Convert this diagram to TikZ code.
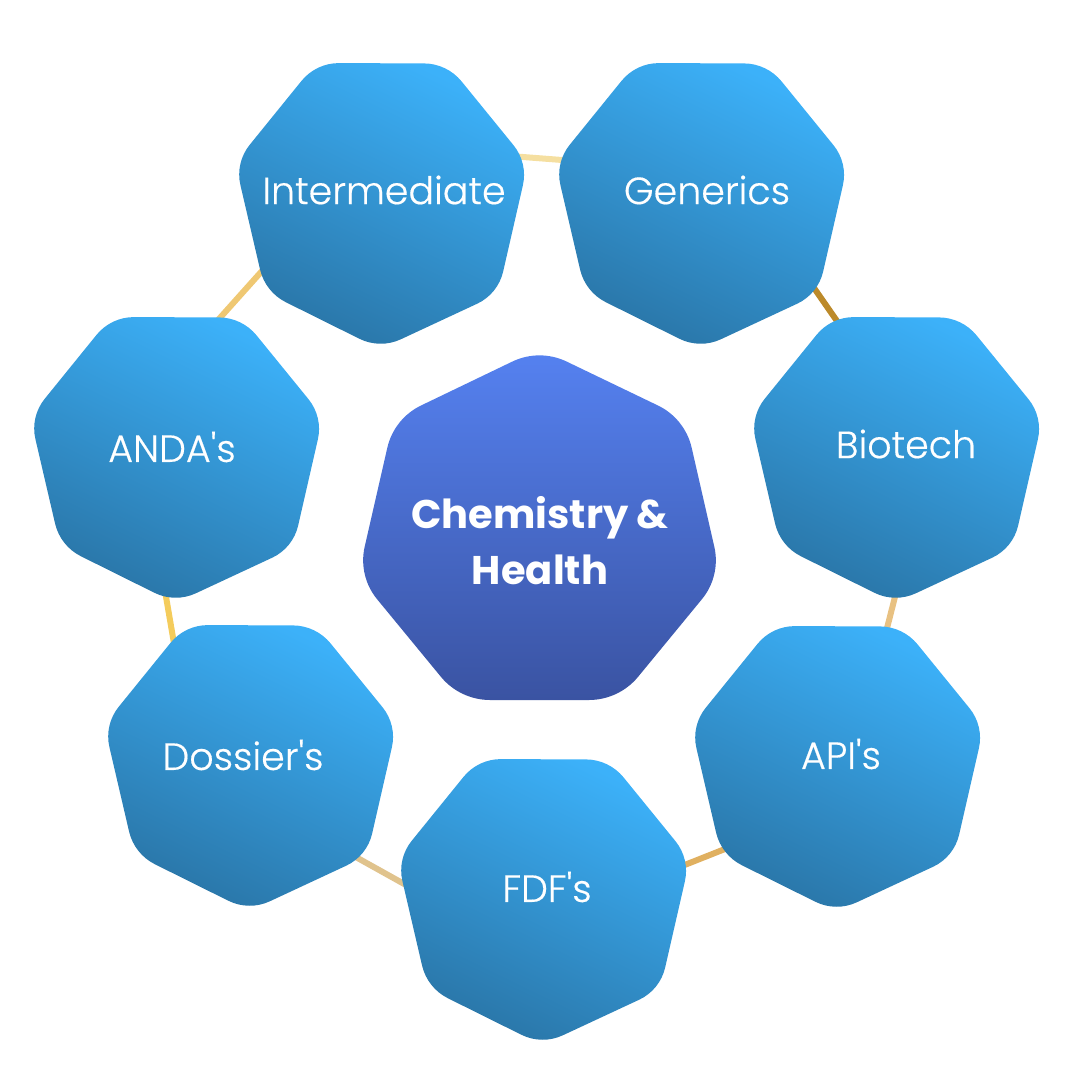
\documentclass[tikz,border=0pt]{standalone}
\usepackage{fontspec}
\setmainfont{Poppins}
\newfontfamily\plight[FakeBold=0.4]{Poppins Light}
\newfontfamily\pbold{Poppins Bold}
\usetikzlibrary{backgrounds,calc}
\definecolor{hexTop}{HTML}{3CB1F9}
\definecolor{hexBot}{HTML}{2A76A8}
\definecolor{coreTop}{HTML}{5581F0}
\definecolor{coreBot}{HTML}{3A53A2}
\definecolor{linkA}{RGB}{245,223,160}
\definecolor{linkB}{RGB}{188,138,42}
\definecolor{linkC}{RGB}{232,193,130}
\definecolor{linkD}{RGB}{224,176,96}
\definecolor{linkE}{RGB}{224,195,141}
\definecolor{linkF}{RGB}{244,204,92}
\definecolor{linkG}{RGB}{239,200,115}
\tikzset{
  x=1pt,y=-1pt,
  hexa/.style={top color=hexTop,bottom color=hexBot,shading angle=-26},
  corehexa/.style={top color=coreTop,bottom color=coreBot},
  hexlabel/.style={text=white,inner sep=0pt,font=\plight\fontsize{38}{44}\selectfont},
  corelabel/.style={text=white,inner sep=0pt,align=center,font=\pbold\fontsize{40}{56}\selectfont},
  link/.style={line width=6pt}
}
% smooth corner at vertex #2 between neighbours #1 and #3, tangent distance #4
\newcommand{\smoothcorner}[4]{%
  -- ($(#2)!#4!(#1)$) .. controls ($(#2)!0.37*#4!(#1)$) and ($(#2)!0.37*#4!(#3)$) .. ($(#2)!#4!(#3)$)}
\newcommand{\sevenpath}[1]{%
  ($(a)!#1!(b)$)
  \smoothcorner{a}{b}{c}{#1}\smoothcorner{b}{c}{d}{#1}\smoothcorner{c}{d}{e}{#1}
  \smoothcorner{d}{e}{f}{#1}\smoothcorner{e}{f}{g}{#1}\smoothcorner{f}{g}{a}{#1}
  \smoothcorner{g}{a}{b}{#1} -- cycle}
% #1 name, #2 #3 top-left offset of outline, #4 #5 text position, #6 text
\newcommand{\hepta}[6]{%
  \begin{scope}[shift={(#2pt,-#3pt)}]
  \coordinate (a) at (77,0); \coordinate (b) at (208,0.5); \coordinate (c) at (289,100);
  \coordinate (d) at (259,231) ; \coordinate (e) at (141,286); \coordinate (f) at (26.3,229);
  \coordinate (g) at (-3.8,99.7);
  \shade[hexa] \sevenpath{23pt};
  \end{scope}
  \node[hexlabel] (#1) at (#4,#5) {#6};
}
\begin{document}
\begin{tikzpicture}
\useasboundingbox (0,0) rectangle (1080,1080);
\hepta{inter}{239}{63}{384}{190}{Intermediate}
\hepta{gen}{559}{63}{707}{190}{Generics}
\hepta{bio}{754}{317}{906}{444}{Biotech}
\hepta{anda}{34}{317}{172}{447}{ANDA's}
\hepta{doss}{108}{625}{243}{755}{Dossier's}
\hepta{api}{695}{626}{841}{754}{API's}
\hepta{fdf}{401}{759}{547}{887}{FDF's}
\coordinate (a) at (539.5,348.5); \coordinate (b) at (685,418.5); \coordinate (c) at (721,576);
\coordinate (d) at (619,700); \coordinate (e) at (460,700); \coordinate (f) at (358,576); \coordinate (g) at (394,418.5);
\shade[corehexa] \sevenpath{30pt};
\node[corelabel] (core) at (540,540.5) {Chemistry \&\\Health};
\begin{pgfonlayer}{background}
\draw[link,linkA] ([shift={(126,-34)}]inter.center) -- ([shift={(-132,-29)}]gen.center);
\draw[link,linkB] ([shift={(98,85)}]gen.center) -- ([shift={(-60,-110)}]bio.center);
\draw[link,linkC] ([shift={(-8,141)}]bio.center) -- ([shift={(43,-114)}]api.center);
\draw[link,linkD] ([shift={(-106,91)}]api.center) -- ([shift={(125,-17)}]fdf.center);
\draw[link,linkE] ([shift={(-132,3)}]fdf.center) -- ([shift={(102,96)}]doss.center);
\draw[link,linkF] ([shift={(-67,-100)}]doss.center) -- ([shift={(-8,138)}]anda.center);
\draw[link,linkG] ([shift={(38,-118)}]anda.center) -- ([shift={(-114,72)}]inter.center);
\end{pgfonlayer}
\end{tikzpicture}
\end{document}
